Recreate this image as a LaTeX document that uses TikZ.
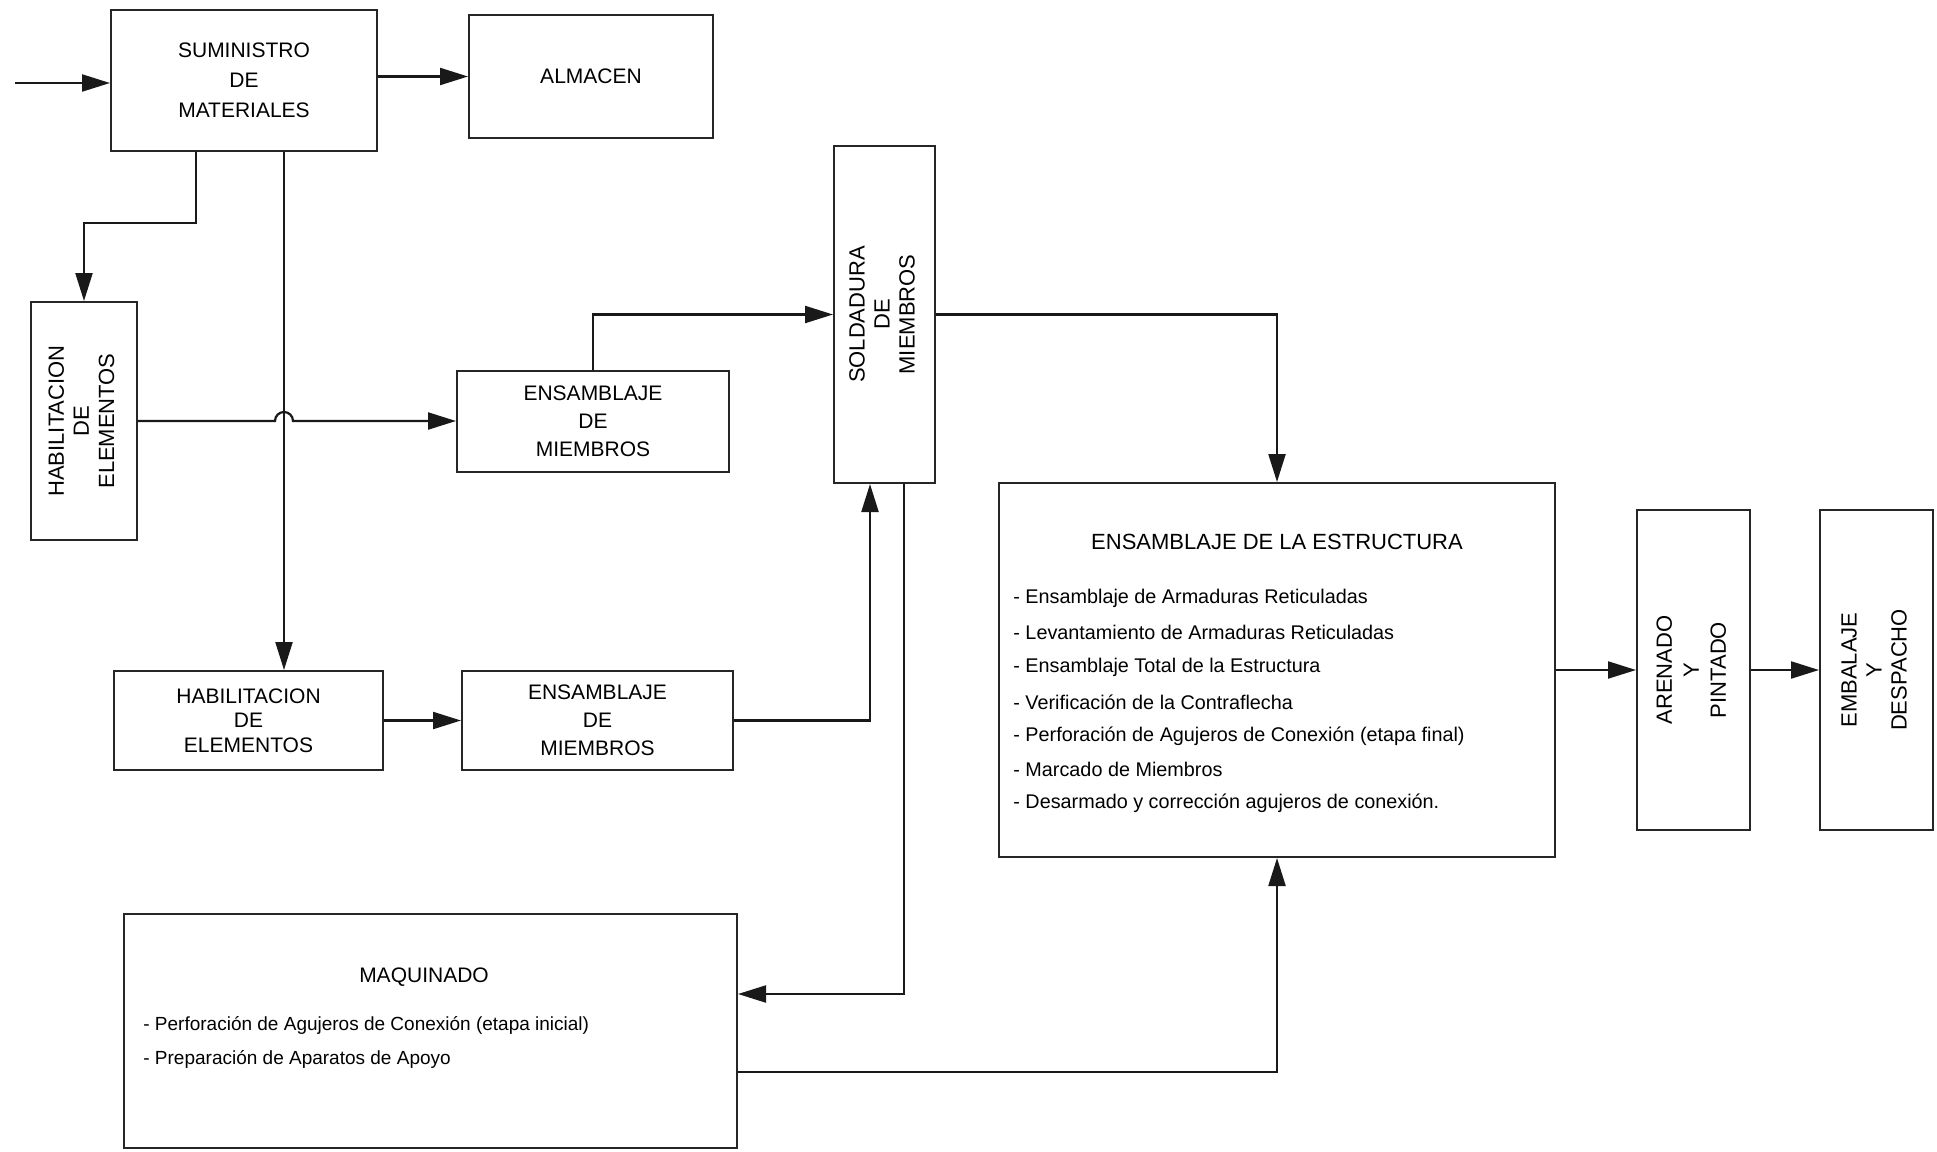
\documentclass[tikz,border=0pt]{standalone}
\usepackage{fontspec}
\setmainfont{Liberation Sans}
\usetikzlibrary{arrows.meta,calc}
\newcommand{\vlab}[1]{\rotatebox{90}{\begin{tabular}{@{}c@{}}#1\end{tabular}}}
\begin{document}
\begin{tikzpicture}[x=0.5pt,y=-0.5pt,
  box/.style={draw=black!85,line width=1pt,inner sep=0pt,align=center,
    font=\fontsize{10.5}{14}\selectfont},
  vlabel/.style={box,font=\fontsize{11}{12.5}\selectfont},
  arr/.style={draw=black!90,line width=1.1pt,-{Triangle[length=14pt,width=8.5pt]}},
  item/.style={inner sep=0pt,anchor=west,font=\fontsize{9.9}{12}\selectfont},
  mitem/.style={inner sep=0pt,anchor=west,font=\fontsize{9.5}{12}\selectfont}]
\useasboundingbox (0,0) rectangle (1937,1151);
% boxes
\node[box,minimum width=133pt,minimum height=70.5pt,font=\fontsize{10.5}{15}\selectfont] (sum) at (244,80.5) {SUMINISTRO\\DE\\MATERIALES};
\node[box,minimum width=122pt,minimum height=61.5pt] (alm) at (591,76.5) {ALMACEN};
\node[vlabel,minimum width=53pt,minimum height=119pt] (habA) at (84,421) {\vlab{HABILITACION\\DE\\ELEMENTOS}};
\node[box,minimum width=136pt,minimum height=50.5pt] (ensA) at (593,421) {ENSAMBLAJE\\DE\\MIEMBROS};
\node[vlabel,minimum width=50.5pt,minimum height=168.5pt] (sold) at (884.5,314.5) {\vlab{SOLDADURA\\DE\\MIEMBROS}};
\node[box,minimum width=278pt,minimum height=187pt] (est) at (1277,670) {};
\node[box,minimum width=134.5pt,minimum height=49.5pt,font=\fontsize{10.5}{12.3}\selectfont] (habB) at (248.5,720.5) {HABILITACION\\DE\\ELEMENTOS};
\node[box,minimum width=135.5pt,minimum height=49.5pt] (ensB) at (597.5,720.5) {ENSAMBLAJE\\DE\\MIEMBROS};
\node[box,minimum width=306.5pt,minimum height=117pt] (maq) at (430.5,1031) {};
\node[vlabel,minimum width=56.5pt,minimum height=160pt,font=\fontsize{11}{13.5}\selectfont] (are) at (1693.5,670) {\vlab{ARENADO\\Y\\PINTADO}};
\node[vlabel,minimum width=56.5pt,minimum height=160pt] (emb) at (1876.5,670) {\vlab{EMBALAJE\\Y\\DESPACHO}};
% texts inside large boxes
\node[inner sep=0pt,font=\fontsize{11}{13}\selectfont] (estT) at (1277,542) {ENSAMBLAJE DE LA ESTRUCTURA};
\node[item] (e1) at (1013,598) {- Ensamblaje de Armaduras Reticuladas};
\node[item] (e2) at (1013,632) {- Levantamiento de Armaduras Reticuladas};
\node[item] (e3) at (1013,667) {- Ensamblaje Total de la Estructura};
\node[item] (e4) at (1013,702) {- Verificación de la Contraflecha};
\node[item] (e5) at (1013,736) {- Perforación de Agujeros de Conexión (etapa final)};
\node[item] (e6) at (1013,769) {- Marcado de Miembros};
\node[item] (e7) at (1013,803) {- Desarmado y corrección agujeros de conexión.};
\node[inner sep=0pt,font=\fontsize{10.5}{13}\selectfont] (maqT) at (424,977) {MAQUINADO};
\node[mitem] (m1) at (143,1025) {- Perforación de Agujeros de Conexión (etapa inicial)};
\node[mitem] (m2) at (143,1059) {- Preparación de Aparatos de Apoyo};
% connectors
\coordinate (in) at (15,83);
\draw[arr] (in) -- (in -| sum.west);
\draw[arr] (sum.east |- alm.west) -- (alm.west);
\draw[arr] ($(sum.south)+(-48,0)$) -- ++(0,71) -| (habA.north);
\path ($(sum.south)+(40,0)$) coordinate (vtop);
\draw[arr] (vtop) -- (vtop |- habB.north);
\draw[arr] (habA.east) -- ($(vtop |- habA.east)+(-9,0)$) arc[start angle=180,end angle=0,radius=4.5pt] -- (ensA.west);
\draw[arr] (ensA.north) |- (sold.west);
\draw[arr] (sold.east) -| (est.north);
\draw[arr] (habB.east) -- (ensB.west);
\draw[arr] (ensB.east) -| ($(sold.south)+(-14.5,0)$);
\draw[arr] ($(sold.south)+(19.5,0)$) |- ($(maq.east)+(0,-37)$);
\draw[arr] ($(maq.east)+(0,41)$) -| (est.south);
\draw[arr] (est.east) -- (are.west);
\draw[arr] (are.east) -- (emb.west);
\end{tikzpicture}
\end{document}
